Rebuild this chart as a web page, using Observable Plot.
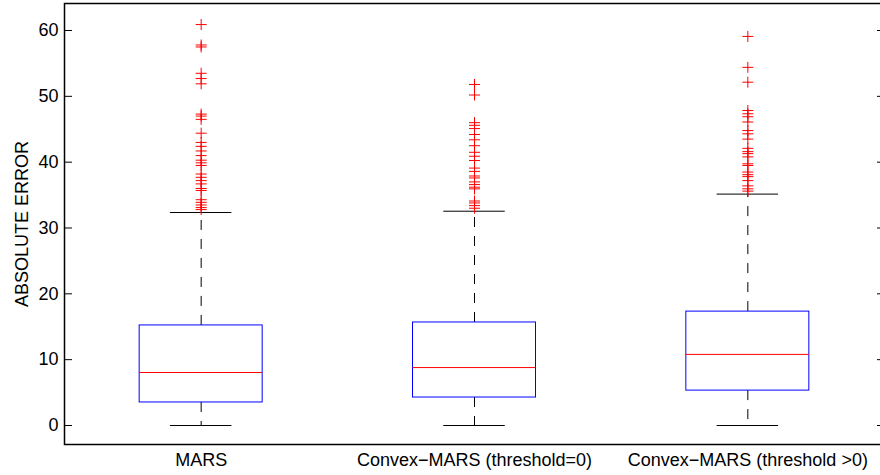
<!DOCTYPE html>
<html>
<head>
<meta charset="utf-8">
<script src="https://cdn.jsdelivr.net/npm/d3@7"></script>
<script src="https://cdn.jsdelivr.net/npm/@observablehq/plot@0.6"></script>
<style>
  html, body { margin: 0; padding: 0; background: white; overflow: hidden; }
</style>
</head>
<body>
<div id="chart"></div>
<script>
const categories = ["MARS", "Convex\u2212MARS (threshold=0)", "Convex\u2212MARS (threshold >0)"];
const q1 = [3.5, 4.25, 5.3];
const median = [8.05, 8.8, 10.8];
const q3 = [15.2, 15.65, 17.3];
const lowerWhisker = [0, 0, 0];
const upperWhisker = [32.35, 32.55, 35.15];
const outliersMARS = [60.9, 57.8, 57.5, 53.5, 52.7, 51.9, 47.3, 47.0, 46.5, 44.4, 43.0, 42.4, 41.7, 41.0, 40.3, 39.9, 39.5, 38.2, 37.7, 37.2, 36.7, 36.0, 35.7, 34.3, 33.9, 33.5, 33.1, 32.8];
const outliersConvex0 = [51.8, 50.2, 46.0, 45.6, 45.1, 44.2, 43.4, 42.5, 41.5, 40.9, 40.25, 39.1, 38.6, 37.9, 37.6, 37.0, 36.6, 36.2, 35.95, 34.1, 33.8, 33.4, 33.0];
const outliersConvexPos = [59.1, 54.4, 52.15, 47.85, 47.35, 46.9, 46.1, 44.8, 44.3, 43.5, 42.1, 41.6, 41.3, 40.8, 39.75, 39.5, 38.5, 38.1, 37.8, 37.2, 36.4, 35.95, 35.6];
const yTicks = [0, 10, 20, 30, 40, 50, 60];

const boxes = categories.map((c, i) => ({
  pos: i + 1, name: c, q1: q1[i], median: median[i], q3: q3[i],
  lo: lowerWhisker[i], hi: upperWhisker[i]
}));
const outliers = [outliersMARS, outliersConvex0, outliersConvexPos]
  .flatMap((arr, i) => arr.map(v => ({pos: i + 1, value: v})));

const halfBox = 0.225, halfCap = 0.1125;

const plusSymbol = {
  draw(ctx, size) {
    const r = Math.sqrt(size / Math.PI);
    ctx.moveTo(-r, 0); ctx.lineTo(r, 0);
    ctx.moveTo(0, -r); ctx.lineTo(0, r);
  }
};

const font = "'Liberation Sans', Arial, Helvetica, sans-serif";

const chart = Plot.plot({
  width: 880,
  height: 475,
  marginTop: 3,
  marginBottom: 31,
  marginLeft: 64,
  marginRight: -4,
  style: {fontFamily: font, fontSize: "18px", background: "white", color: "black"},
  x: {domain: [0.5, 3.5], axis: null},
  y: {domain: [-2.886, 64.101], axis: null},
  marks: [
    Plot.axisY({anchor: "left", ticks: yTicks, tickSize: -8, tickPadding: 14, label: null, fontSize: 18}),
    Plot.axisY({anchor: "right", ticks: yTicks, tickSize: -8, tickFormat: () => "", label: null}),
    Plot.axisX({anchor: "bottom", ticks: [1, 2, 3], tickSize: 0, tickPadding: 9, label: null, fontSize: 18,
      tickFormat: d => categories[d - 1]}),
    Plot.text(["ABSOLUTE ERROR"], {frameAnchor: "left", rotate: -90, dx: -42, lineAnchor: "middle", textAnchor: "middle", fontSize: 18, fill: "black"}),
    // whiskers (dashed)
    Plot.ruleX(boxes, {x: "pos", y1: "q3", y2: "hi", stroke: "black", strokeDasharray: "10,9"}),
    Plot.ruleX(boxes, {x: "pos", y1: "q1", y2: "lo", stroke: "black", strokeDasharray: "10,9"}),
    // caps
    Plot.ruleY(boxes, {y: "hi", x1: d => d.pos - halfCap, x2: d => d.pos + halfCap, stroke: "black"}),
    Plot.ruleY(boxes, {y: "lo", x1: d => d.pos - halfCap, x2: d => d.pos + halfCap, stroke: "black"}),
    // boxes
    Plot.rect(boxes, {x1: d => d.pos - halfBox, x2: d => d.pos + halfBox, y1: "q1", y2: "q3", fill: "none", stroke: "#0000ff"}),
    // medians
    Plot.ruleY(boxes, {y: "median", x1: d => d.pos - halfBox, x2: d => d.pos + halfBox, stroke: "#ff0000"}),
    // outliers
    Plot.dot(outliers, {x: "pos", y: "value", symbol: plusSymbol, r: 5.5, stroke: "#ff0000", fill: "none", strokeWidth: 1}),
    Plot.frame({stroke: "black", strokeWidth: 1.5})
  ]
});
document.getElementById("chart").appendChild(chart);
</script>
</body>
</html>
